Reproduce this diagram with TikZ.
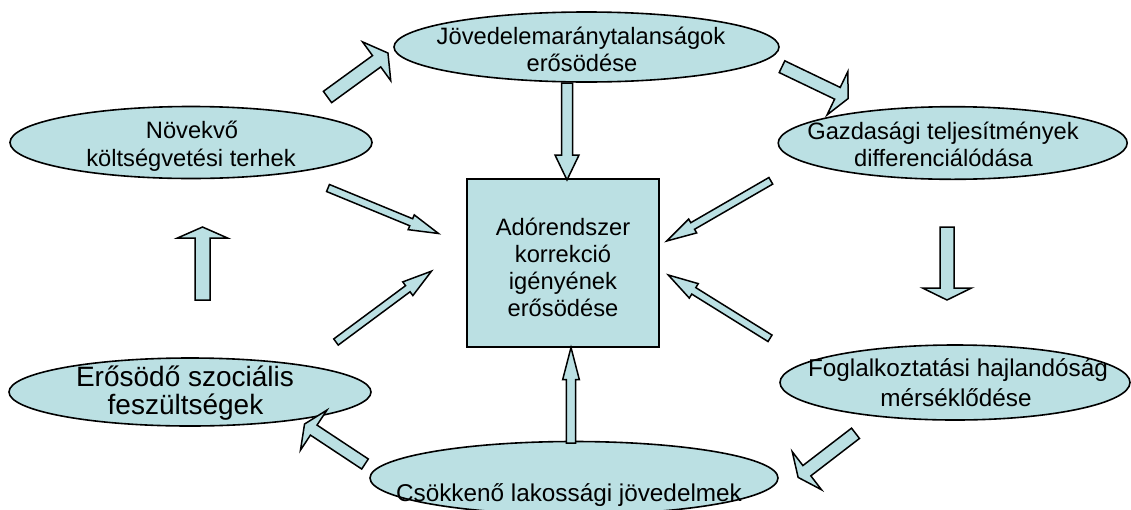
\documentclass[tikz,border=0pt]{standalone}
\usepackage{fontspec}
\setmainfont{Liberation Sans}
\usetikzlibrary{shapes.geometric,calc}
\definecolor{cfill}{RGB}{187,224,227}
\tikzset{
  ell/.style={ellipse, draw=black, fill=cfill, line width=1.6pt, inner sep=0pt, outer sep=0pt},
  boxnode/.style={rectangle, draw=black, fill=cfill, line width=1.6pt, inner sep=0pt, outer sep=0pt},
  barr/.style={draw=black, fill=cfill, line width=1.5pt, line join=miter, miter limit=10},
  txt/.style={anchor=base, inner sep=0pt, outer sep=0pt, font=\fontsize{23.7}{28}\selectfont},
  txtm/.style={txt, font=\fontsize{24.3}{28}\selectfont},
  txtl/.style={txt, font=\fontsize{28}{30}\selectfont},
}
\newcommand\barrow[5]{%
  \path let \p1=($(#2)-(#1)$) in \pgfextra{%
    \pgfmathsetmacro\baang{atan2(\y1,\x1)}%
    \pgfmathsetmacro\balen{veclen(\x1,\y1)}%
    \xdef\baang{\baang}\xdef\balen{\balen}};
  \begin{scope}[shift={(#1)},rotate=\baang,x=1pt,y=1pt]
    \draw[barr] (0,-#3) -- (\balen-#5,-#3) -- (\balen-#5,-#4) -- (\balen,0)
      -- (\balen-#5,#4) -- (\balen-#5,#3) -- (0,#3) -- cycle;
  \end{scope}}
\begin{document}
\begin{tikzpicture}[x=1pt,y=-1pt]
\useasboundingbox (0,0) rectangle (1131,509);
\clip (0,0) rectangle (1131,509);

% shapes
\node[ell, minimum width=385pt, minimum height=70pt] (jov) at (586.5,47) {};
\node[ell, minimum width=362pt, minimum height=72pt] (nov) at (191,142.5) {};
\node[ell, minimum width=349pt, minimum height=72.6pt] (gaz) at (952.7,143) {};
\node[ell, minimum width=350pt, minimum height=75pt] (fog) at (955,382.5) {};
\node[ell, minimum width=362pt, minimum height=68pt] (ero) at (190,392) {};
\node[ell, minimum width=408pt, minimum height=73pt] (cso) at (574,478) {};
\node[boxnode, minimum width=192pt, minimum height=168pt] (box) at (563,263) {};

% arrow end points
\coordinate (a1t) at (327.5,97);   \coordinate (a1h) at (388,53);
\coordinate (a2t) at (782,66.7);   \coordinate (a2h) at (848.3,98.5);
\coordinate (a3t) at (947,227);    \coordinate (a3h) at (947,300);
\coordinate (a4t) at (855.5,433.3);\coordinate (a4h) at (798,477.5);
\coordinate (a5t) at (365,464);    \coordinate (a5h) at (304.5,424);
\coordinate (a6t) at (202.5,300);  \coordinate (a6h) at (202.5,227);
\coordinate (b1t) at (567,83);     \coordinate (b1h) at (567,180);
\coordinate (b2t) at (328,188);    \coordinate (b2h) at (438.5,233.5);
\coordinate (b3t) at (336,342);    \coordinate (b3h) at (431.7,271);
\coordinate (b4t) at (770.8,180.8);\coordinate (b4h) at (666.7,241);
\coordinate (b5t) at (770,338.3);  \coordinate (b5h) at (668.3,275);
\coordinate (b6t) at (571,443);    \coordinate (b6h) at (571,347.5);

% cycle arrows
\barrow{a1t}{a1h}{7}{24}{14}
\barrow{a2t}{a2h}{6.5}{24}{12}
\barrow{a3t}{a3h}{7}{24.5}{12}
\barrow{a4t}{a4h}{6.5}{24}{11}
\barrow{a5t}{a5h}{6}{24}{11}
\barrow{a6t}{a6h}{7.5}{25}{11}
% arrows into the box
\barrow{b1t}{b1h}{5.5}{12}{25}
\barrow{b2t}{b2h}{3.8}{8}{29.5}
\barrow{b3t}{b3h}{3.8}{8.5}{29.5}
\barrow{b4t}{b4h}{3.8}{8}{30}
\barrow{b5t}{b5h}{3.8}{8.5}{30}
\barrow{b6t}{b6h}{4.6}{8.3}{32}

% texts
\node[txt] (jov1) at (581,44) {Jövedelemaránytalanságok};
\node[txt] (jov2) at (582,71.5) {erősödése};
\node[txt] (nov1) at (192,138) {Növekvő};
\node[txt] (nov2) at (191,166.7) {költségvetési terhek};
\node[txt] (gaz1) at (943,139.3) {Gazdasági teljesítmények};
\node[txt] (gaz2) at (943.5,166) {differenciálódása};
\node[txtm] (fog1) at (958,376.5) {Foglalkoztatási hajlandóság};
\node[txtm] (fog2) at (956,406.5) {mérséklődése};
\node[txtl] (ero1) at (185,386) {Erősödő szociális};
\node[txtl] (ero2) at (185.5,414.5) {feszültségek};
\node[txtm] (cso1) at (569,501) {Csökkenő lakossági jövedelmek};
\node[txt] (box1) at (563,235) {Adórendszer};
\node[txt] (box2) at (563,262) {korrekció};
\node[txt] (box3) at (563,289) {igényének};
\node[txt] (box4) at (563,316.5) {erősödése};
\end{tikzpicture}
\end{document}
